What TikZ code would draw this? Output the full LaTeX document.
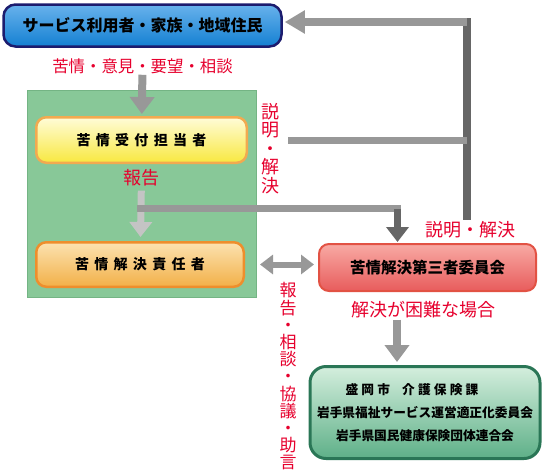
\documentclass[tikz,border=0pt]{standalone}
\usepackage{fontspec}
\setmainfont{Noto Sans CJK JP}
\usetikzlibrary{positioning,arrows.meta,calc}

\definecolor{usersup}{HTML}{68B2EC}
\definecolor{usersdown}{HTML}{1480D2}
\definecolor{usersline}{HTML}{1C1C6E}
\definecolor{panelgreen}{HTML}{88C898}
\definecolor{panelline}{HTML}{74B484}
\definecolor{receptionup}{HTML}{FFFCD8}
\definecolor{receptiondown}{HTML}{F8E840}
\definecolor{receptionline}{HTML}{F2AA50}
\definecolor{managerup}{HTML}{FCE2B0}
\definecolor{managerdown}{HTML}{F2B048}
\definecolor{managerline}{HTML}{EE8E2C}
\definecolor{committeeup}{HTML}{F8AAA4}
\definecolor{committeedown}{HTML}{E85C5C}
\definecolor{committeeline}{HTML}{E25244}
\definecolor{agencyup}{HTML}{D4EEDD}
\definecolor{agencydown}{HTML}{5EB088}
\definecolor{agencyline}{HTML}{2A7656}
\definecolor{notered}{HTML}{E6002D}
\definecolor{arrowlight}{HTML}{C4C4C4}
\definecolor{arrowmid}{HTML}{989898}
\definecolor{arrowdark}{HTML}{666666}

\begin{document}
\begin{tikzpicture}[x=1pt, y=1pt,
  box/.style={rectangle, rounded corners=10pt, line width=2.5pt, text centered, inner sep=0pt},
  note/.style={text=notered, font=\fontsize{18}{20}\selectfont, inner sep=1pt},
  vnote/.style={text=notered, align=center, inner sep=0pt},
  fat/.style={line width=8pt, -{Triangle[width=24pt,length=17pt]}},
  slim/.style={line width=7pt, -{Triangle[width=22pt,length=15pt]}}]
\useasboundingbox (0,0) rectangle (543,-472);

\node (users) [box, minimum width=278pt, minimum height=42pt, rounded corners=12pt, draw=usersline, top color=usersup, bottom color=usersdown, font=\fontsize{16}{18}\selectfont\bfseries] at (142.5,-25.5) {サービス利用者・家族・地域住民};
\node (complaint) [note, font=\fontsize{16.4}{18}\selectfont, below of=users, node distance=40.5pt] {苦情・意見・要望・相談};
\node (panel) [rectangle, minimum width=229pt, minimum height=206.5pt, fill=panelgreen, draw=panelline, line width=1pt, below of=complaint, node distance=128pt, xshift=-0.5pt] {};
\node (reception) [box, minimum width=210.5pt, minimum height=45.5pt, draw=receptionline, top color=receptionup, bottom color=receptiondown, font=\fontsize{14}{16}\selectfont\bfseries\addfontfeature{LetterSpace=38}, below of=complaint, node distance=74pt, xshift=-1pt] {苦情受付担当者};
\node (report) [note, below of=reception, node distance=38pt] {報告};
\node (manager) [box, minimum width=207.5pt, minimum height=44.5pt, draw=managerline, top color=managerup, bottom color=managerdown, font=\fontsize{14}{16}\selectfont\bfseries\addfontfeature{LetterSpace=38}, below of=reception, node distance=124.5pt, xshift=-1.5pt] {苦情解決責任者};
\node (committee) [box, minimum width=217pt, minimum height=47pt, line width=2pt, draw=committeeline, top color=committeeup, bottom color=committeedown, font=\fontsize{15.5}{18}\selectfont\bfseries, right of=manager, node distance=287.5pt, yshift=-3pt] {苦情解決第三者委員会};
\node (explain) [note, above of=committee, node distance=37.5pt, xshift=42.5pt] {説明・解決};
\node (difficult) [note, below of=committee, node distance=42.5pt, xshift=-4pt] {解決が困難な場合};
\node (agencies) [box, minimum width=230pt, minimum height=92pt, rounded corners=16pt, line width=3pt, draw=agencyline, top color=agencyup, bottom color=agencydown, align=center, font=\fontsize{12.7}{23}\selectfont\bfseries, below of=difficult, node distance=102.5pt, xshift=1.5pt] {{\addfontfeature{LetterSpace=25}盛岡市\ \ 介護保険課}\hspace*{26pt}\\岩手県福祉サービス運営適正化委員会\\岩手県国民健康保険団体連合会};
\node (explainv) [vnote, font=\fontsize{18}{18.6}\selectfont, right of=reception, node distance=128.5pt, yshift=-8.5pt] {説\\明\\・\\解\\決};
\node (consult) [vnote, font=\fontsize{17}{17.2}\selectfont, right of=manager, node distance=148pt, yshift=-112pt] {報\\告\\・\\相\\談\\・\\協\\議\\・\\助\\言};

\coordinate (fork) at ($(report.south)!0.4!(manager.north)$);
\coordinate (drop) at ([xshift=-30pt]committee.north);
\coordinate (riser) at ([xshift=-3pt]explain.north);
\coordinate (back) at ([yshift=3.5pt]users.east);

\draw[fat, arrowmid, shorten >=2pt] (complaint) -- (reception);
\draw[slim, arrowlight, shorten <=3pt, shorten >=4pt] (report) -- (manager);
\draw[line width=7pt, arrowmid, line cap=rect] (fork) -- (fork -| drop);
\draw[slim, arrowdark, shorten >=1pt] (fork -| drop) -- (drop);
\draw[line width=8pt, arrowdark, line cap=rect, shorten <=4pt] (riser) -- (riser |- back);
\draw[line width=8pt, arrowmid, -{Triangle[width=22pt,length=20pt]}, shorten >=2pt] (riser |- back) -- (back);
\draw[line width=7pt, arrowmid] ([xshift=40pt]reception.east) -- (reception.east -| riser);
\draw[line width=6pt, arrowmid, {Triangle[width=19pt,length=13pt]}-{Triangle[width=19pt,length=13pt]}, shorten <=15pt, shorten >=4pt] (manager.east) -- (manager.east -| committee.west);
\draw[fat, arrowmid, shorten >=3pt] ([xshift=-26.5pt]difficult.south) -- ([xshift=-28pt]agencies.north);
\end{tikzpicture}
\end{document}
